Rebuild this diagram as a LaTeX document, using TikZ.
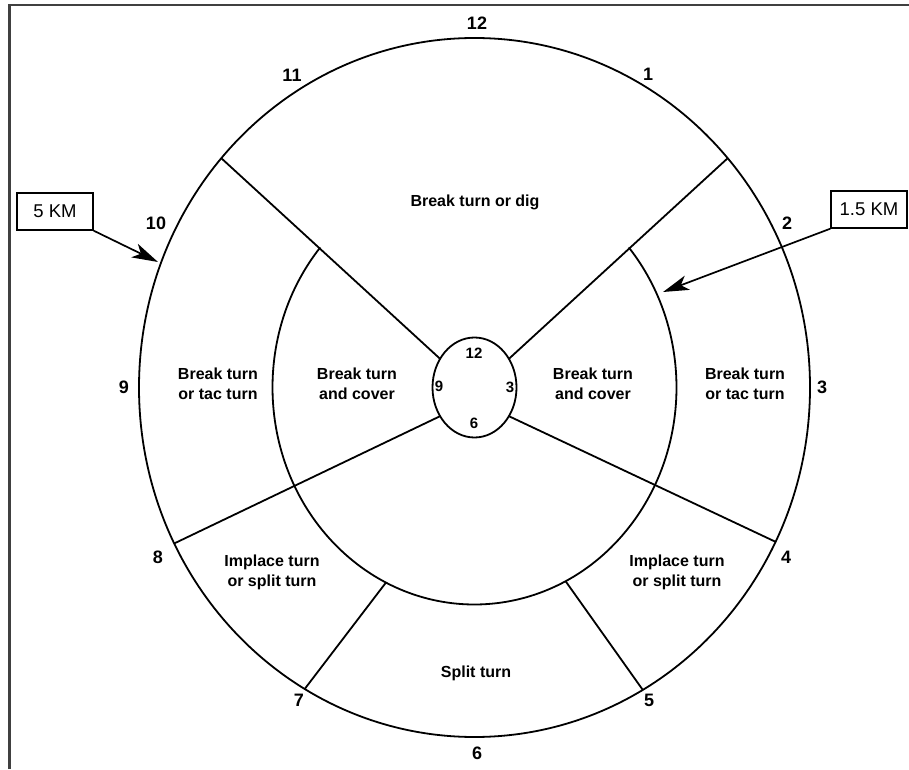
\documentclass[tikz,border=0pt]{standalone}
\usepackage{fontspec}
\setmainfont{Liberation Sans}
\usetikzlibrary{arrows.meta,calc}
\begin{document}
\begin{tikzpicture}[x=1pt,y=1pt,
  num/.style={font=\bfseries\fontsize{18}{18}\selectfont, inner sep=0},
  smallnum/.style={font=\bfseries\fontsize{15}{15}\selectfont, inner sep=0},
  sect/.style={font=\bfseries\fontsize{16}{20}\selectfont, align=center, inner sep=0},
  ring/.style={line width=1.8pt},
  kmbox/.style={draw, line width=1.4pt, minimum width=76pt, minimum height=37pt, font=\fontsize{18.5}{18.5}\selectfont, inner sep=0},
  ptr/.style={line width=1.7pt, -{Stealth[length=26pt,width=15pt,inset=7pt]}}
]
\useasboundingbox (0,0) rectangle (909,769);
\draw[line width=2.5pt, black!75] (9.5,0) -- (9.5,764) -- (909,764);
\coordinate (C) at (474.5,381.5);
% rings
\draw[ring] (C) ellipse [x radius=335.5, y radius=349.5];
\draw[ring] (C) ellipse [x radius=42, y radius=50];
\coordinate (iUL) at ($(C)+(139.8:202 and 217)$);
\draw[ring] (iUL) arc[start angle=139.8, end angle=400.2, x radius=202, y radius=217];
% points
\coordinate (oUL) at ($(C)+(139:335.5 and 349.5)$);
\coordinate (oUR) at ($(C)+(41:335.5 and 349.5)$);
\coordinate (oLL) at ($(C)+(206.5:335.5 and 349.5)$);
\coordinate (oLR) at ($(C)+(333.8:335.5 and 349.5)$);
\coordinate (oBL) at ($(C)+(239.6:335.5 and 349.5)$);
\coordinate (oBR) at ($(C)+(300.1:335.5 and 349.5)$);
\coordinate (sUL) at ($(C)+(145:42 and 50)$);
\coordinate (sUR) at ($(C)+(35:42 and 50)$);
\coordinate (sLL) at ($(C)+(215:42 and 50)$);
\coordinate (sLR) at ($(C)+(325:42 and 50)$);
\coordinate (iBL) at ($(C)+(244:202 and 217)$);
\coordinate (iBR) at ($(C)+(296.8:202 and 217)$);
\draw[ring] (sUL) -- (oUL);
\draw[ring] (sUR) -- (oUR);
\draw[ring] (sLL) -- (oLL);
\draw[ring] (sLR) -- (oLR);
\draw[ring] (iBL) -- (oBL);
\draw[ring] (iBR) -- (oBR);
% clock numbers
\node[num] (n12) at (477,746) {12};
\node[num] (n1) at (648,695) {1};
\node[num] (n11) at (292,694) {11};
\node[num] (n2) at (787,546) {2};
\node[num] (n10) at (156,546) {10};
\node[num] (n9) at (124,382) {9};
\node[num] (n3) at (822,382) {3};
\node[num] (n4) at (786,212) {4};
\node[num] (n8) at (158,212) {8};
\node[num] (n5) at (649,69) {5};
\node[num] (n7) at (299,69) {7};
\node[num] (n6) at (477,16) {6};
% small clock
\node[smallnum] (s12) at (474,416) {12};
\node[smallnum] (s9) at (439,383) {9};
\node[smallnum] (s3) at (510,382) {3};
\node[smallnum] (s6) at (474,346) {6};
% sectors
\node[sect] (t1) at (475,567) {Break turn or dig};
\node[sect] (t2) at (218,385) {Break turn\\or tac turn};
\node[sect] (t3) at (745,385) {Break turn\\or tac turn};
\node[sect] (t4) at (357,385) {Break turn\\and cover};
\node[sect] (t5) at (593,385) {Break turn\\and cover};
\node[sect] (t6) at (272,197) {Implace turn\\or split turn};
\node[sect] (t7) at (677,197) {Implace turn\\or split turn};
\node[sect] (t8) at (476,96) {Split turn};
% distance boxes
\node[kmbox] (k5) at (55,557.5) {5 KM};
\node[kmbox] (k15) at (869,559.5) {1.5 KM};
\coordinate (a5) at (158,507);
\coordinate (a15) at (663,477);
\draw[ptr] (k5.south east) -- (a5);
\draw[ptr] (k15.south west) -- (a15);
\end{tikzpicture}
\end{document}
